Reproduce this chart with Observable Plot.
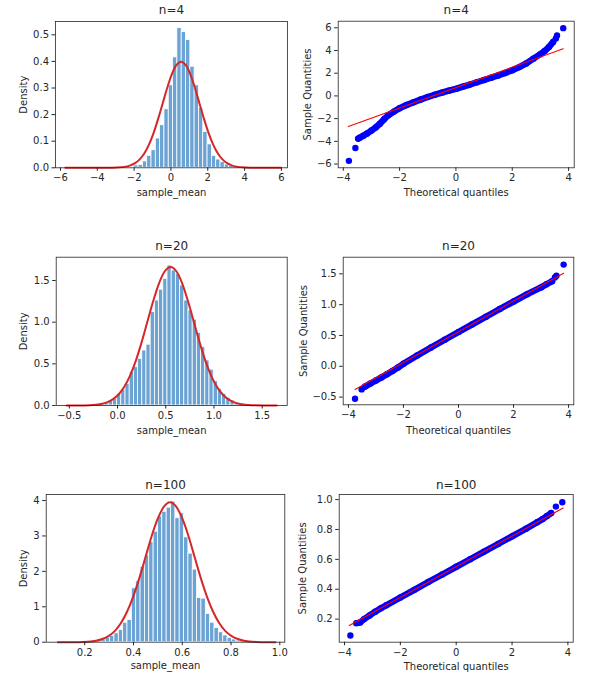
<!DOCTYPE html>
<html>
<head>
<meta charset="utf-8">
<script src="https://cdn.jsdelivr.net/npm/d3@7"></script>
<script src="https://cdn.jsdelivr.net/npm/@observablehq/plot@0.6"></script>
<style>
  body { margin: 0; background: #fff; }
  #chart { position: relative; width: 592px; height: 680px; background: #fff; overflow: hidden; }
  .cell { position: absolute; }
</style>
</head>
<body>
<div id="chart"></div>
<script>
// ---------------- data ----------------
const titles = ["n=4", "n=20", "n=100"];

// histogram n=4 (bin starts, common bin width, density)
const hist4Start = [-1.993, -1.759, -1.524, -1.290, -1.056, -0.822, -0.588, -0.353, -0.119, 0.115, 0.349, 0.583, 0.818, 1.052, 1.286, 1.520, 1.754, 1.989, 2.223, 2.457, 2.691, 2.925, 3.160, 3.394];
const hist4Width = 0.234;
const hist4Density = [0.009, 0.011, 0.024, 0.045, 0.066, 0.11, 0.16, 0.22, 0.31, 0.415, 0.525, 0.51, 0.48, 0.38, 0.31, 0.225, 0.135, 0.088, 0.045, 0.031, 0.021, 0.012, 0.007, 0.004];

// histogram n=20
const hist20Start = [-0.2222, -0.1787, -0.1351, -0.0916, -0.0481, -0.0045, 0.0390, 0.0826, 0.1261, 0.1696, 0.2132, 0.2567, 0.3003, 0.3438, 0.3873, 0.4309, 0.4744, 0.5180, 0.5615, 0.6050, 0.6486, 0.6921, 0.7357, 0.7792, 0.8227, 0.8663, 0.9098, 0.9534, 0.9969, 1.0404, 1.0840, 1.1275, 1.1711, 1.2146, 1.2581, 1.3017];
const hist20Width = 0.04354;
const hist20Density = [0.012, 0.02, 0.04, 0.06, 0.08, 0.14, 0.19, 0.26, 0.40, 0.46, 0.56, 0.66, 0.73, 1.12, 1.26, 1.39, 1.52, 1.68, 1.62, 1.58, 1.44, 1.26, 1.14, 1.03, 0.87, 0.70, 0.54, 0.43, 0.29, 0.20, 0.14, 0.09, 0.06, 0.03, 0.02, 0.01];

// histogram n=100
const hist100Start = [0.1792, 0.1970, 0.2149, 0.2327, 0.2506, 0.2684, 0.2862, 0.3041, 0.3219, 0.3398, 0.3576, 0.3754, 0.3933, 0.4111, 0.4290, 0.4468, 0.4646, 0.4825, 0.5003, 0.5182, 0.5360, 0.5538, 0.5717, 0.5895, 0.6074, 0.6252, 0.6430, 0.6609, 0.6787, 0.6966, 0.7144, 0.7322, 0.7501, 0.7679, 0.7858, 0.8036, 0.8214, 0.8393, 0.8571, 0.8750];
const hist100Width = 0.01784;
const hist100Density = [0.01, 0.015, 0.02, 0.035, 0.055, 0.08, 0.12, 0.18, 0.25, 0.34, 0.55, 0.63, 1.52, 1.72, 2.13, 2.45, 2.83, 3.12, 3.55, 3.68, 3.80, 3.97, 3.50, 3.64, 2.96, 2.50, 2.05, 1.25, 1.23, 0.80, 0.55, 0.40, 0.28, 0.19, 0.12, 0.075, 0.045, 0.03, 0.015, 0.008];

// red density curves
const curve4X = [-5.74, -4.45, -3.45, -2.95, -2.45, -2.2, -1.95, -1.7, -1.45, -1.2, -0.95, -0.7, -0.45, -0.2, 0.05, 0.3, 0.55, 0.8, 1.05, 1.3, 1.55, 1.8, 2.05, 2.3, 2.55, 2.8, 3.05, 3.3, 3.55, 4.05, 4.55, 5.97];
const curve4Y = [0, 0, 0.0001, 0.0009, 0.0044, 0.0091, 0.0175, 0.0317, 0.054, 0.0863, 0.1295, 0.183, 0.242, 0.301, 0.352, 0.387, 0.399, 0.387, 0.352, 0.301, 0.242, 0.183, 0.1295, 0.0863, 0.054, 0.0317, 0.0175, 0.0091, 0.0044, 0.0009, 0.0001, 0];
const curve20X = [-0.527, -0.41, -0.29, -0.17, -0.11, -0.05, 0.01, 0.07, 0.13, 0.19, 0.25, 0.31, 0.37, 0.43, 0.49, 0.55, 0.61, 0.67, 0.73, 0.79, 0.85, 0.91, 0.97, 1.03, 1.09, 1.15, 1.21, 1.27, 1.39, 1.51, 1.65];
const curve20Y = [0, 0.0006, 0.0036, 0.0184, 0.0378, 0.0729, 0.132, 0.225, 0.359, 0.539, 0.761, 1.008, 1.254, 1.467, 1.611, 1.662, 1.611, 1.467, 1.254, 1.008, 0.761, 0.539, 0.359, 0.225, 0.132, 0.0729, 0.0378, 0.0184, 0.0036, 0.0006, 0];
const curve100X = [0.09, 0.146, 0.196, 0.247, 0.272, 0.2975, 0.323, 0.348, 0.373, 0.3985, 0.424, 0.449, 0.474, 0.4995, 0.525, 0.55, 0.575, 0.6005, 0.626, 0.651, 0.676, 0.7015, 0.727, 0.752, 0.777, 0.8025, 0.828, 0.853, 0.904, 0.954, 0.982];
const curve100Y = [0, 0.0013, 0.0086, 0.0438, 0.0898, 0.173, 0.3135, 0.535, 0.853, 1.281, 1.809, 2.396, 2.985, 3.486, 3.829, 3.95, 3.829, 3.486, 2.985, 2.396, 1.809, 1.281, 0.853, 0.535, 0.3135, 0.173, 0.0898, 0.0438, 0.0086, 0.0013, 0];

// Q-Q plots: dense band of points + isolated tail points + reference line
const qq4BandX = [-3.47, -3.40, -3.29, -3.15, -3.00, -2.85, -2.70, -2.55, -2.40, -2.20, -2.00, -1.75, -1.50, -1.25, -1.00, -0.75, -0.50, -0.25, 0, 0.25, 0.50, 0.75, 1.00, 1.25, 1.50, 1.75, 2.00, 2.25, 2.50, 2.75, 3.00, 3.15, 3.30, 3.45];
const qq4BandY = [-3.76, -3.66, -3.50, -3.30, -3.05, -2.78, -2.45, -2.05, -1.70, -1.38, -1.08, -0.80, -0.55, -0.32, -0.10, 0.10, 0.29, 0.46, 0.62, 0.82, 1.00, 1.20, 1.40, 1.60, 1.80, 2.02, 2.26, 2.54, 2.86, 3.28, 3.68, 3.95, 4.30, 4.75];
const qq4TailX = [-3.80, -3.57, 3.55, 3.59, 3.81];
const qq4TailY = [-5.72, -4.58, 5.05, 5.33, 5.97];
const qq4LineX = [-3.82, 3.81];
const qq4LineY = [-2.70, 4.15];

const qq20BandX = [-3.40, -3.20, -3.00, -2.80, -2.60, -2.40, -2.20, -2.00, -1.50, -1.00, -0.50, 0, 0.50, 1.00, 1.50, 2.00, 2.50, 3.00, 3.20, 3.40];
const qq20BandY = [-0.33, -0.28, -0.23, -0.18, -0.13, -0.075, -0.02, 0.04, 0.175, 0.305, 0.43, 0.555, 0.68, 0.805, 0.93, 1.05, 1.17, 1.28, 1.33, 1.38];
const qq20TailX = [-3.76, -3.52, 3.50, 3.56, 3.82];
const qq20TailY = [-0.527, -0.375, 1.44, 1.47, 1.65];
const qq20LineX = [-3.76, 3.82];
const qq20LineY = [-0.376, 1.51];

const qq100BandX = [-3.44, -3.30, -3.10, -2.90, -2.70, -2.50, -2.00, -1.50, -1.00, -0.50, 0, 0.50, 1.00, 1.50, 2.00, 2.50, 2.90, 3.10, 3.25, 3.40];
const qq100BandY = [0.178, 0.200, 0.225, 0.250, 0.272, 0.293, 0.345, 0.396, 0.448, 0.499, 0.550, 0.601, 0.652, 0.703, 0.754, 0.805, 0.848, 0.870, 0.890, 0.910];
const qq100TailX = [-3.79, -3.58, -3.52, 3.57, 3.80];
const qq100TailY = [0.09, 0.172, 0.175, 0.953, 0.982];
const qq100LineX = [-3.83, 3.83];
const qq100LineY = [0.157, 0.944];

// tick values
const ticksHist4X = [-6, -4, -2, 0, 2, 4, 6];
const ticksHist4Y = [0, 0.1, 0.2, 0.3, 0.4, 0.5];
const ticksHist20X = [-0.5, 0, 0.5, 1.0, 1.5];
const ticksHist20Y = [0, 0.5, 1.0, 1.5];
const ticksHist100X = [0.2, 0.4, 0.6, 0.8, 1.0];
const ticksHist100Y = [0, 1, 2, 3, 4];
const ticksQQX = [-4, -2, 0, 2, 4];
const ticksQQ4Y = [-6, -4, -2, 0, 2, 4, 6];
const ticksQQ20Y = [-0.5, 0, 0.5, 1.0, 1.5];
const ticksQQ100Y = [0.2, 0.4, 0.6, 0.8, 1.0];

// ---------------- drawing ----------------
const INK = "#262626";
const BAR = "#6aa3d4";
const CURVE = "#d62728";
const DOT = "#0000ff";
const f1 = d3.format(".1f");
const f0 = d3.format("d");

function panel(o) {
  return Plot.plot({
    width: 296, height: 210,
    marginLeft: o.m[0], marginRight: o.m[1], marginTop: o.m[2], marginBottom: o.m[3],
    x: {domain: o.xDomain},
    y: {domain: o.yDomain},
    style: {fontFamily: "'DejaVu Sans', sans-serif", fontSize: "10px", color: INK, background: "transparent", overflow: "visible"},
    marks: [
      ...o.marks,
      Plot.frame({stroke: INK, strokeWidth: 0.8}),
      Plot.axisX({ticks: o.xTicks, tickFormat: o.xFormat, tickSize: 3.5, tickPadding: 3, label: null}),
      Plot.axisY({ticks: o.yTicks, tickFormat: o.yFormat, tickSize: 3.5, tickPadding: 3, label: null}),
      Plot.text([o.title], {text: d => d, frameAnchor: "top", dy: o.titleDy, fontSize: 12, textAnchor: "middle", lineAnchor: "middle", fill: INK}),
      Plot.text([o.xLabel], {text: d => d, frameAnchor: "bottom", dy: o.xLabelDy, textAnchor: "middle", lineAnchor: "middle", fill: INK}),
      Plot.text([o.yLabel], {text: d => d, frameAnchor: "left", dx: o.yLabelDx, rotate: -90, textAnchor: "middle", lineAnchor: "middle", fill: INK})
    ]
  });
}

function histMarks(starts, width, dens, cx, cy) {
  return [
    Plot.rect(d3.range(starts.length), {
      x1: i => starts[i], x2: i => starts[i] + width, y1: 0, y2: i => dens[i],
      fill: BAR, stroke: "white", strokeWidth: 0.8
    }),
    Plot.line(d3.range(cx.length), {x: i => cx[i], y: i => cy[i], stroke: CURVE, strokeWidth: 2, curve: "monotone-x"})
  ];
}

function qqMarks(bx, by, tx, ty, lx, ly) {
  return [
    Plot.line(d3.range(bx.length), {x: i => bx[i], y: i => by[i], stroke: DOT, strokeWidth: 6.4, strokeLinecap: "round", strokeLinejoin: "round"}),
    Plot.dot(d3.range(bx.length), {x: i => bx[i], y: i => by[i], r: 3.2, fill: DOT}),
    Plot.dot(d3.range(tx.length), {x: i => tx[i], y: i => ty[i], r: 3.2, fill: DOT}),
    Plot.line(d3.range(lx.length), {x: i => lx[i], y: i => ly[i], stroke: "red", strokeWidth: 1.1})
  ];
}

const cells = [
  {left: 0, top: 0, opts: {
    m: [55, 9, 21, 42.7], xDomain: [-6.27, 6.33], yDomain: [0, 0.55],
    xTicks: ticksHist4X, yTicks: ticksHist4Y, xFormat: f0, yFormat: f1,
    title: titles[0], xLabel: "sample_mean", yLabel: "Density",
    titleDy: -11, xLabelDy: 25.4, yLabelDx: -31.7,
    marks: histMarks(hist4Start, hist4Width, hist4Density, curve4X, curve4Y)}},
  {left: 296, top: 0, opts: {
    m: [41.7, 18.3, 20.7, 42.7], xDomain: [-4.18, 4.20], yDomain: [-6.33, 6.58],
    xTicks: ticksQQX, yTicks: ticksQQ4Y, xFormat: f0, yFormat: f0,
    title: titles[0], xLabel: "Theoretical quantiles", yLabel: "Sample Quantities",
    titleDy: -10.7, xLabelDy: 25.4, yLabelDx: -30,
    marks: qqMarks(qq4BandX, qq4BandY, qq4TailX, qq4TailY, qq4LineX, qq4LineY)}},
  {left: 0, top: 230, opts: {
    m: [55.7, 9.3, 26.7, 35], xDomain: [-0.636, 1.759], yDomain: [0, 1.78],
    xTicks: ticksHist20X, yTicks: ticksHist20Y, xFormat: f1, yFormat: f1,
    title: titles[1], xLabel: "sample_mean", yLabel: "Density",
    titleDy: -10.7, xLabelDy: 25.7, yLabelDx: -32.4,
    marks: histMarks(hist20Start, hist20Width, hist20Density, curve20X, curve20Y)}},
  {left: 296, top: 230, opts: {
    m: [46.7, 18.7, 26.7, 35.7], xDomain: [-4.19, 4.19], yDomain: [-0.625, 1.77],
    xTicks: ticksQQX, yTicks: ticksQQ20Y, xFormat: f0, yFormat: f1,
    title: titles[1], xLabel: "Theoretical quantiles", yLabel: "Sample Quantities",
    titleDy: -10.7, xLabelDy: 26.4, yLabelDx: -39.4,
    marks: qqMarks(qq20BandX, qq20BandY, qq20TailX, qq20TailY, qq20LineX, qq20LineY)}},
  {left: 0, top: 470, opts: {
    m: [45.7, 11.7, 24, 38.3], xDomain: [0.042, 1.0205], yDomain: [0, 4.17],
    xTicks: ticksHist100X, yTicks: ticksHist100Y, xFormat: f1, yFormat: f0,
    title: titles[2], xLabel: "sample_mean", yLabel: "Density",
    titleDy: -9.7, xLabelDy: 23.3, yLabelDx: -22.4,
    marks: histMarks(hist100Start, hist100Width, hist100Density, curve100X, curve100Y)}},
  {left: 296, top: 470, opts: {
    m: [42.7, 19.3, 24, 38.3], xDomain: [-4.19, 4.19], yDomain: [0.0455, 1.034],
    xTicks: ticksQQX, yTicks: ticksQQ100Y, xFormat: f0, yFormat: f1,
    title: titles[2], xLabel: "Theoretical quantiles", yLabel: "Sample Quantities",
    titleDy: -9.7, xLabelDy: 24.3, yLabelDx: -36.7,
    marks: qqMarks(qq100BandX, qq100BandY, qq100TailX, qq100TailY, qq100LineX, qq100LineY)}}
];

const chart = document.getElementById("chart");
for (const c of cells) {
  const div = document.createElement("div");
  div.className = "cell";
  div.style.left = c.left + "px";
  div.style.top = c.top + "px";
  div.appendChild(panel(c.opts));
  chart.appendChild(div);
}
</script>
</body>
</html>
